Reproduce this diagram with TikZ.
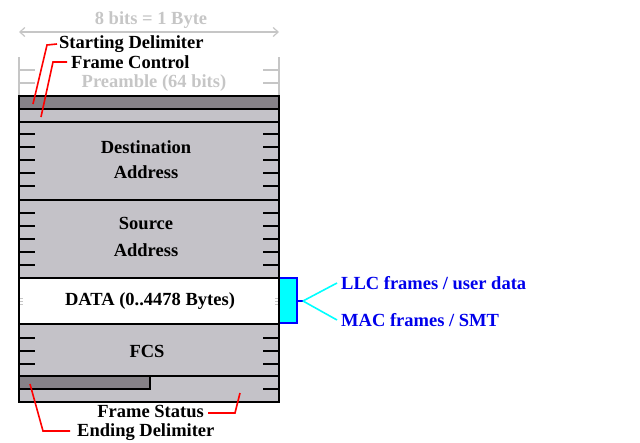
\documentclass[tikz,border=0pt]{standalone}
\usepackage{fontspec}
\setmainfont{Liberation Serif}
\usetikzlibrary{arrows.meta}

\definecolor{fieldgray}{RGB}{196,194,200}
\definecolor{delimgray}{RGB}{134,130,136}
\definecolor{pregray}{RGB}{198,198,198}
\definecolor{textblue}{RGB}{0,0,235}
\definecolor{brblue}{RGB}{0,0,255}
\definecolor{brcyan}{RGB}{0,255,255}

\begin{document}
\begin{tikzpicture}[x=1pt,y=-1pt,
    field/.style={fill=fieldgray,draw=black,line width=1.6pt},
    sep/.style={line width=1.6pt},
    tick/.style={line width=1.2pt},
    lbl/.style={font=\bfseries\fontsize{18.5}{18.5}\selectfont,inner sep=0pt},
    leader/.style={red,line width=1.6pt},
    hint/.style={lbl,text=textblue,anchor=west}]
    \useasboundingbox (0,0) rectangle (640,442);

    % byte width arrow
    \draw [pregray, line width=1.2pt, {Straight Barb[length=5pt,width=9pt]}-{Straight Barb[length=5pt,width=9pt]}] (19,32) -- (279,32);
    \node [lbl, text=pregray] (byte) at (151,20) {8 bits = 1 Byte};

    % preamble (not drawn as field)
    \draw [pregray, line width=1.2pt] (19,57) -- (19,96) (279,57) -- (279,96);
    \foreach \y in {70,83}
        \draw [pregray, tick] (19,\y) -- (35,\y) (263,\y) -- (279,\y);
    \node [lbl, text=pregray] (pre) at (154,83) {Preamble (64 bits)};

    % the frame
    \filldraw [field] (19,96) rectangle (279,402);
    \fill [white] (19,278) rectangle (279,324);
    \fill [delimgray] (19,96) rectangle (279,109);
    \filldraw [fill=delimgray, draw=black, sep] (19,376) rectangle (150,389);
    \foreach \y in {109,122,200,278,324,376}
        \draw [sep] (19,\y) -- (279,\y);
    \draw [field, fill=none] (19,96) rectangle (279,402);

    % byte ticks
    \foreach \y in {134,147,160,173,186,213,226,239,252,265,338,351,364}
        \draw [tick] (19,\y) -- (35,\y) (263,\y) -- (279,\y);
    \draw [tick] (263,389) -- (279,389);
    \foreach \y in {298,301,304}
        \draw [pregray, line width=1pt] (20,\y) -- (23,\y) (275,\y) -- (278,\y);

    % field names
    \node [lbl] (dst1) at (146,147) {Destination};
    \node [lbl] (dst2) at (146,172) {Address};
    \node [lbl] (src1) at (146,223) {Source};
    \node [lbl] (src2) at (146,250) {Address};
    \node [lbl] (data) at (150,301) {DATA (0..4478 Bytes)};
    \node [lbl] (fcs) at (147,351) {FCS};

    % delimiter labels
    \node [lbl, anchor=west] (sd) at (59,44) {Starting Delimiter};
    \node [lbl, anchor=west] (fc) at (71,62) {Frame Control};
    \node [lbl, anchor=east] (fs) at (204,411.5) {Frame Status};
    \node [lbl, anchor=west] (ed) at (77,432.5) {Ending Delimiter};

    \coordinate (sdpt) at (33,104);
    \coordinate (fcpt) at (41,117);
    \coordinate (fspt) at (240,393);
    \coordinate (edpt) at (30,384);
    \draw [leader] (sdpt) -- (47,45) -- ([xshift=-2pt]sd.west);
    \draw [leader] (fcpt) -- (53,62) -- ([xshift=-4pt]fc.west);
    \draw [leader] (fspt) -- (235,413) -- ([xshift=4pt,yshift=-1.5pt]fs.east);
    \draw [leader] (edpt) -- (43,431) -- ([xshift=-7pt,yshift=1.5pt]ed.west);

    % data contents
    \fill [brcyan] (280,278) rectangle (297,323);
    \draw [brblue, line width=1.4pt] (280,278) -- (297,278) -- (297,323) -- (280,323);
    \coordinate (fork) at (303,301);
    \draw [brblue, line width=1.4pt] (297,301) -- (fork);
    \node [hint] (llc) at (341,283) {LLC frames / user data};
    \node [hint] (mac) at (341,320) {MAC frames / SMT};
    \draw [brcyan, line width=1.6pt] (fork) -- ([xshift=-4pt]llc.west);
    \draw [brcyan, line width=1.6pt] (fork) -- ([xshift=-4pt]mac.west);
\end{tikzpicture}
\end{document}
